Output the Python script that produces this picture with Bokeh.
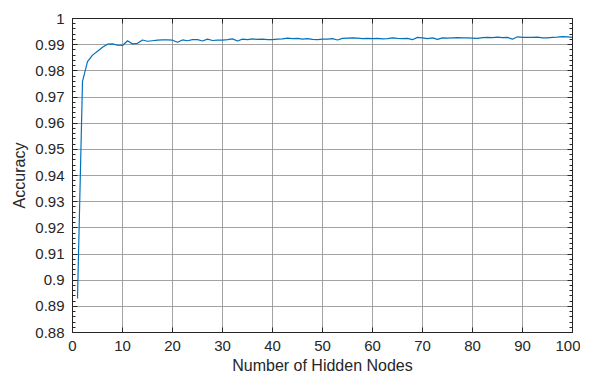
from bokeh.plotting import figure
from bokeh.models import LinearAxis, FixedTicker, CustomJSTickFormatter, Range1d
from bokeh.embed import file_html
from bokeh.resources import INLINE

hidden_nodes = list(range(1, 101))
accuracy = [
    0.893, 0.976, 0.9835, 0.986, 0.9875, 0.989, 0.9902, 0.9903, 0.9898, 0.9897,
    0.9915, 0.9903, 0.9905, 0.9918, 0.9913, 0.9915, 0.9917, 0.9918, 0.9918, 0.9917,
    0.9909, 0.9918, 0.9915, 0.9919, 0.9919, 0.9914, 0.9921, 0.9916, 0.9917, 0.9917,
    0.9919, 0.9922, 0.9914, 0.9921, 0.9919, 0.9922, 0.9920, 0.9921, 0.9919, 0.9919,
    0.9921, 0.9922, 0.9925, 0.9923, 0.9924, 0.9921, 0.9923, 0.9920, 0.9919, 0.9921,
    0.9921, 0.9923, 0.9918, 0.9924, 0.9925, 0.9926, 0.9925, 0.9923, 0.9924, 0.9923,
    0.9924, 0.9922, 0.9923, 0.9926, 0.9924, 0.9923, 0.9924, 0.9919, 0.9928, 0.9926,
    0.9923, 0.9926, 0.9920, 0.9926, 0.9925, 0.9926, 0.9927, 0.9926, 0.9926, 0.9925,
    0.9924, 0.9927, 0.9928, 0.9927, 0.9929, 0.9927, 0.9928, 0.9921, 0.9930, 0.9928,
    0.9928, 0.9928, 0.9929, 0.9926, 0.9926, 0.9928, 0.9929, 0.9931, 0.9930, 0.9928,
]
x_ticks = [0, 10, 20, 30, 40, 50, 60, 70, 80, 90, 100]
y_ticks = [0.88, 0.89, 0.90, 0.91, 0.92, 0.93, 0.94, 0.95, 0.96, 0.97, 0.98, 0.99, 1.0]
y_minor = [round(0.88 + i * 0.002, 3) for i in range(61)]

TEXT = "#262626"
FONT = "Liberation Sans"

p = figure(frame_width=500, frame_height=314, output_backend="svg", toolbar_location=None,
           x_range=Range1d(0, 100), y_range=Range1d(0.88, 1.0),
           min_border_left=72, min_border_top=18, min_border_right=8, min_border_bottom=30,
           x_axis_label="Number of Hidden Nodes", y_axis_label="Accuracy")
p.outline_line_color = "#262626"
p.outline_line_width = 1

p.line(hidden_nodes, accuracy, line_color="#0072BD", line_width=1.2)

fmt = CustomJSTickFormatter(code="return tick.toFixed(2).replace(/\\.?0+$/, '');")
blank = CustomJSTickFormatter(code="return '';")

def style(ax, labels=True):
    ax.axis_line_color = "#262626"
    ax.major_tick_in = 5
    ax.major_tick_out = 0
    ax.minor_tick_in = 3
    ax.minor_tick_out = 0
    ax.major_tick_line_color = "#262626"
    ax.minor_tick_line_color = "#262626"
    ax.major_label_text_font = FONT
    ax.major_label_text_font_size = "15px"
    ax.major_label_text_color = TEXT
    ax.axis_label_text_font = FONT
    ax.axis_label_text_font_size = "16px"
    ax.axis_label_text_font_style = "normal"
    ax.axis_label_text_color = TEXT
    if not labels:
        ax.formatter = blank
        ax.major_label_standoff = 0

xax = p.xaxis[0]
xax.ticker = FixedTicker(ticks=x_ticks)
style(xax)
xax.major_label_standoff = 8
xax.axis_label_standoff = 3

yax = p.yaxis[0]
yax.ticker = FixedTicker(ticks=y_ticks, minor_ticks=y_minor)
yax.formatter = fmt
style(yax)
yax.major_label_standoff = 8
yax.axis_label_standoff = 4

top = LinearAxis(ticker=FixedTicker(ticks=x_ticks))
style(top, labels=False)
p.add_layout(top, "above")
right = LinearAxis(ticker=FixedTicker(ticks=y_ticks, minor_ticks=y_minor))
style(right, labels=False)
p.add_layout(right, "right")

p.xgrid.ticker = FixedTicker(ticks=x_ticks)
p.ygrid.ticker = FixedTicker(ticks=y_ticks)
for g in (p.xgrid[0], p.ygrid[0]):
    g.grid_line_color = "#8c8c8c"
    g.grid_line_alpha = 0.8
    g.grid_line_width = 1

p.background_fill_color = "white"
p.border_fill_color = "white"

open("out.html", "w").write(file_html(p, INLINE))
